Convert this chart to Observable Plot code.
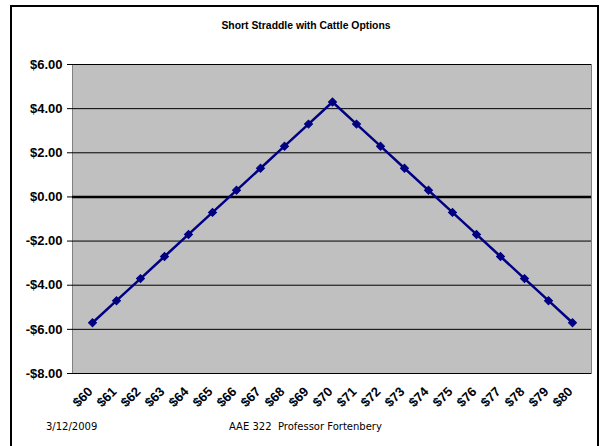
<!DOCTYPE html>
<html>
<head>
<meta charset="utf-8">
<script src="https://cdn.jsdelivr.net/npm/d3@7"></script>
<script src="https://cdn.jsdelivr.net/npm/@observablehq/plot@0.6"></script>
<style>
  html, body { margin: 0; padding: 0; background: #fff; }
  #wrap { position: relative; width: 600px; height: 446px; overflow: hidden; }
  #border { position: absolute; left: 10px; top: 5px; width: 585px; height: 460px; border: 2px solid #000; box-sizing: content-box; }
  #title { position: absolute; left: 0; width: 612px; top: 20px; text-align: center; font: bold 10.4px "Liberation Sans", Arial, sans-serif; }
  .foot { position: absolute; top: 421px; font: 10px "DejaVu Sans", Verdana, sans-serif; }
  #chart { position: absolute; left: 0; top: 0; }
</style>
</head>
<body>
<div id="wrap">
  <div id="border"></div>
  <div id="chart"></div>
  <div id="title">Short Straddle with Cattle Options</div>
  <div class="foot" style="left:46px">3/12/2009</div>
  <div class="foot" style="left:229px">AAE 322&nbsp; Professor Fortenbery</div>
</div>
<script>
const prices = ["$60","$61","$62","$63","$64","$65","$66","$67","$68","$69","$70","$71","$72","$73","$74","$75","$76","$77","$78","$79","$80"];
const profit = [-5.7,-4.7,-3.7,-2.7,-1.7,-0.7,0.3,1.3,2.3,3.3,4.3,3.3,2.3,1.3,0.3,-0.7,-1.7,-2.7,-3.7,-4.7,-5.7];
const yTicks = [-8,-6,-4,-2,0,2,4,6];

const data = prices.map((p, i) => ({price: p, value: profit[i]}));
const fmt = d => (d < 0 ? "-" : "") + "$" + Math.abs(d).toFixed(2);

const chart = Plot.plot({
  width: 600,
  height: 446,
  marginLeft: 72,
  marginTop: 64,
  marginRight: 9,
  marginBottom: 73,
  style: {fontFamily: "'Liberation Sans', Arial, sans-serif", fontSize: "13px", fontWeight: "bold", background: "transparent", color: "#000"},
  x: {type: "point", domain: prices, padding: 0.5, label: null, axis: null},
  y: {domain: [-8, 6], ticks: yTicks, tickFormat: fmt, label: null, tickSize: 5, tickPadding: 5, line: true},
  marks: [
    Plot.frame({fill: "#C0C0C0", stroke: "#808080"}),
    Plot.ruleY(yTicks, {stroke: "#000", strokeWidth: 1}),
    Plot.ruleY([0], {stroke: "#000", strokeWidth: 2.5}),
    Plot.ruleY([-8], {stroke: "#000", strokeWidth: 1}),
    Plot.line(data, {x: "price", y: "value", stroke: "#000080", strokeWidth: 2.5}),
    Plot.dot(data, {x: "price", y: "value", symbol: "square", rotate: 45, r: 3.2, fill: "#000080", stroke: "#000080", strokeWidth: 1}),
    Plot.text(prices, {x: d => d, frameAnchor: "bottom", dy: 16, dx: -2, rotate: -45, textAnchor: "end", lineAnchor: "middle", fontSize: 13, fontWeight: "bold", fill: "#000"})
  ]
});
document.getElementById("chart").appendChild(chart);
</script>
</body>
</html>
